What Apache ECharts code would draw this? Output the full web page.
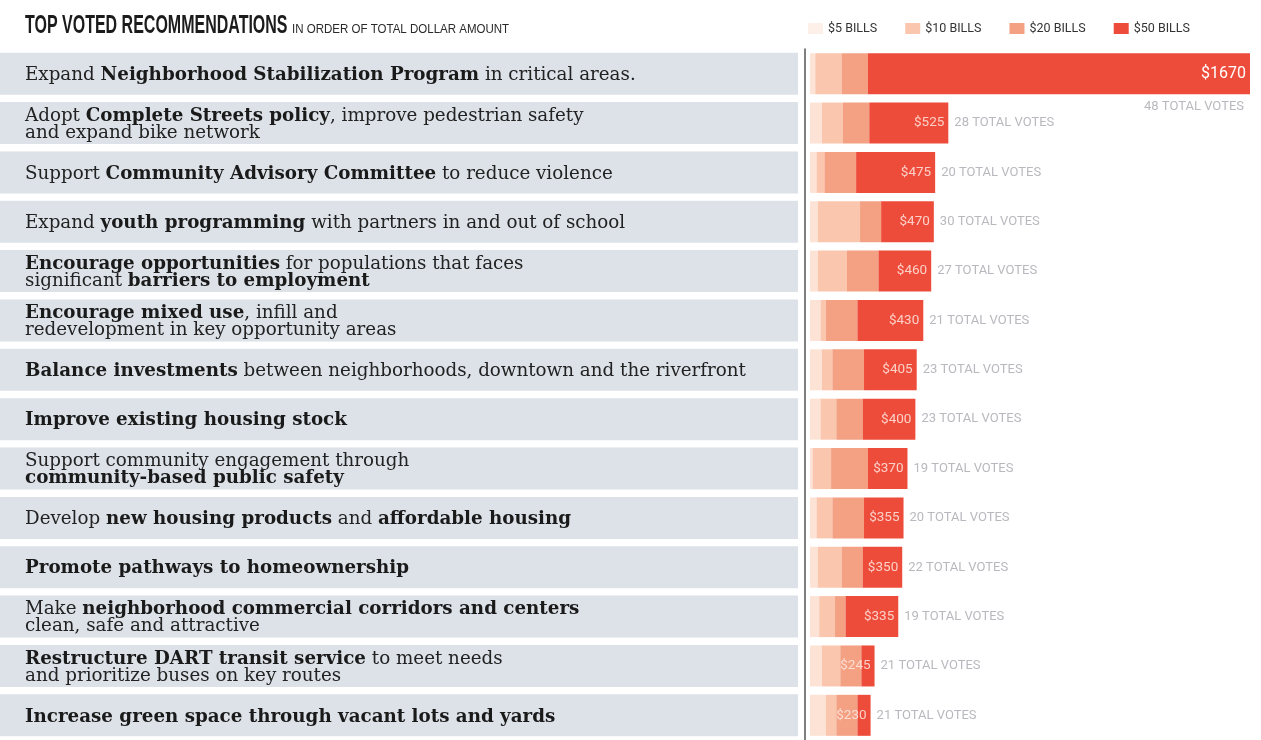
<!DOCTYPE html>
<html>
<head>
<meta charset="utf-8">
<script src="https://cdn.jsdelivr.net/npm/echarts@6/dist/echarts.min.js"></script>
<style>
html,body{margin:0;padding:0;background:#fff;}
#chart{width:1261px;height:740px;}
</style>
</head>
<body>
<div id="chart"></div>
<script>
// ---- data ----
const categories = [
  "Expand **Neighborhood Stabilization Program** in critical areas.",
  "Adopt **Complete Streets policy**, improve pedestrian safety\nand expand bike network",
  "Support **Community Advisory Committee** to reduce violence",
  "Expand **youth programming** with partners in and out of school",
  "**Encourage opportunities** for populations that faces\nsignificant **barriers to employment**",
  "**Encourage mixed use**, infill and\nredevelopment in key opportunity areas",
  "**Balance investments** between neighborhoods, downtown and the riverfront",
  "**Improve existing housing stock**",
  "Support community engagement through\n**community-based public safety**",
  "Develop **new housing products** and **affordable housing**",
  "**Promote pathways to homeownership**",
  "Make **neighborhood commercial corridors and centers**\nclean, safe and attractive",
  "**Restructure DART transit service** to meet needs\nand prioritize buses on key routes",
  "**Increase green space through vacant lots and yards**"
];
const bills5  = [20, 45, 25, 30, 30, 40, 45, 40, 10, 25, 30, 35, 45, 60];
const bills10 = [100, 80, 30, 160, 110, 20, 40, 60, 70, 60, 90, 60, 70, 40];
const bills20 = [100, 100, 120, 80, 120, 120, 120, 100, 140, 120, 80, 40, 80, 80];
const bills50 = [1450, 300, 300, 200, 200, 250, 200, 200, 150, 150, 150, 200, 50, 50];
const totals  = [1670, 525, 475, 470, 460, 430, 405, 400, 370, 355, 350, 335, 245, 230];
const votes   = [48, 28, 20, 30, 27, 21, 23, 23, 19, 20, 22, 19, 21, 21];
const seriesNames = ["$5 BILLS", "$10 BILLS", "$20 BILLS", "$50 BILLS"];
const titleText = "TOP VOTED RECOMMENDATIONS";
const subtitleText = "IN ORDER OF TOTAL DOLLAR AMOUNT";

// ---- helpers ----
function toRich(s) {
  const parts = s.split("**");
  let out = "";
  parts.forEach((p, i) => {
    if (!p) return;
    out += "{" + (i % 2 ? "b" : "r") + "|" + p + "}";
  });
  return out;
}
const sans = "Roboto, 'Liberation Sans', sans-serif";
const serif = "'DejaVu Serif', serif";
const colors = ["#fde3d5", "#fac6ae", "#f3a083", "#ee4c3a"];

const chart = echarts.init(document.getElementById("chart"));
const topY = 49, rowH = 50, h = rowH * categories.length;

const stackSeries = [bills5, bills10, bills20, bills50].map((arr, k) => {
  const s = {
    name: seriesNames[k],
    type: "bar",
    stack: "money",
    xAxisIndex: 1,
    yAxisIndex: 1,
    barWidth: 41,
    itemStyle: { color: colors[k] },
    data: arr.slice(),
    silent: true
  };
  if (k === 3) {
    s.data = arr.map((v, i) => i === 0
      ? { value: v, label: { fontSize: 16, color: "#ffffff" } }
      : v);
    s.label = {
      show: true,
      position: "insideRight",
      distance: 4,
      formatter: p => "$" + totals[p.dataIndex],
      color: "rgba(255,232,224,0.85)",
      fontFamily: sans,
      fontSize: 13.5
    };
  }
  return s;
});

const option = {
  backgroundColor: "#ffffff",
  animation: false,
  graphic: [
    {
      type: "text", x: 25, y: 26, scaleX: 0.64,
      style: {
        text: titleText, fontFamily: "'Liberation Sans', sans-serif", fontWeight: "bold",
        fontSize: 25, fill: "#1b1b1b", verticalAlign: "middle", align: "left"
      }
    },
    {
      type: "text", x: 292, y: 29, scaleX: 0.886,
      style: {
        text: subtitleText, fontFamily: "'Liberation Sans', sans-serif",
        fontSize: 13, fill: "#2a2a2a", verticalAlign: "middle", align: "left"
      }
    }
  ],
  legend: {
    data: seriesNames.map((n, k) => ({ name: n, itemStyle: { color: k === 0 ? "#fdf0e8" : colors[k] } })),
    left: 803,
    top: 17,
    icon: "rect",
    itemWidth: 15,
    itemHeight: 11,
    itemGap: 28,
    selectedMode: false,
    textStyle: { fontFamily: sans, fontSize: 12.5, color: "#333" }
  },
  grid: [
    { left: 0, width: 798, top: topY, height: h },
    { left: 810, width: 440, top: topY, height: h }
  ],
  xAxis: [
    { gridIndex: 0, type: "value", min: 0, max: 1, show: false },
    { gridIndex: 1, type: "value", min: 0, max: 1670, show: false }
  ],
  yAxis: [
    { gridIndex: 0, type: "category", data: categories, inverse: true, show: false },
    {
      gridIndex: 1, type: "category", data: categories, inverse: true,
      offset: 5,
      axisLine: { show: true, onZero: false, lineStyle: { color: "#555", width: 1.5 } },
      axisTick: { show: false },
      axisLabel: { show: false },
      splitLine: { show: false }
    }
  ],
  series: [
    {
      type: "bar",
      xAxisIndex: 0,
      yAxisIndex: 0,
      barWidth: 42,
      silent: true,
      itemStyle: { color: "#dce2e8" },
      data: categories.map(() => 1),
      label: {
        show: true,
        position: [25, 22.5],
        align: "left",
        verticalAlign: "middle",
        formatter: p => toRich(categories[p.dataIndex]),
        lineHeight: 17,
        rich: {
          r: { fontFamily: serif, fontSize: 18.3, color: "#222", lineHeight: 17 },
          b: { fontFamily: serif, fontSize: 18.3, fontWeight: "bold", color: "#1a1a1a", lineHeight: 17 }
        }
      }
    },
    ...stackSeries,
    {
      type: "scatter",
      xAxisIndex: 1,
      yAxisIndex: 1,
      symbolSize: 0,
      silent: true,
      data: totals.map((t, i) => i === 0
        ? { value: [t, i], label: { position: "left", offset: [0, 33] } }
        : { value: [t, i] }),
      label: {
        show: true,
        position: "right",
        distance: 6,
        formatter: p => votes[p.dataIndex] + " TOTAL VOTES",
        color: "#a6a6ae",
        fontFamily: sans,
        fontSize: 13
      }
    }
  ]
};
chart.setOption(option);
</script>
</body>
</html>
